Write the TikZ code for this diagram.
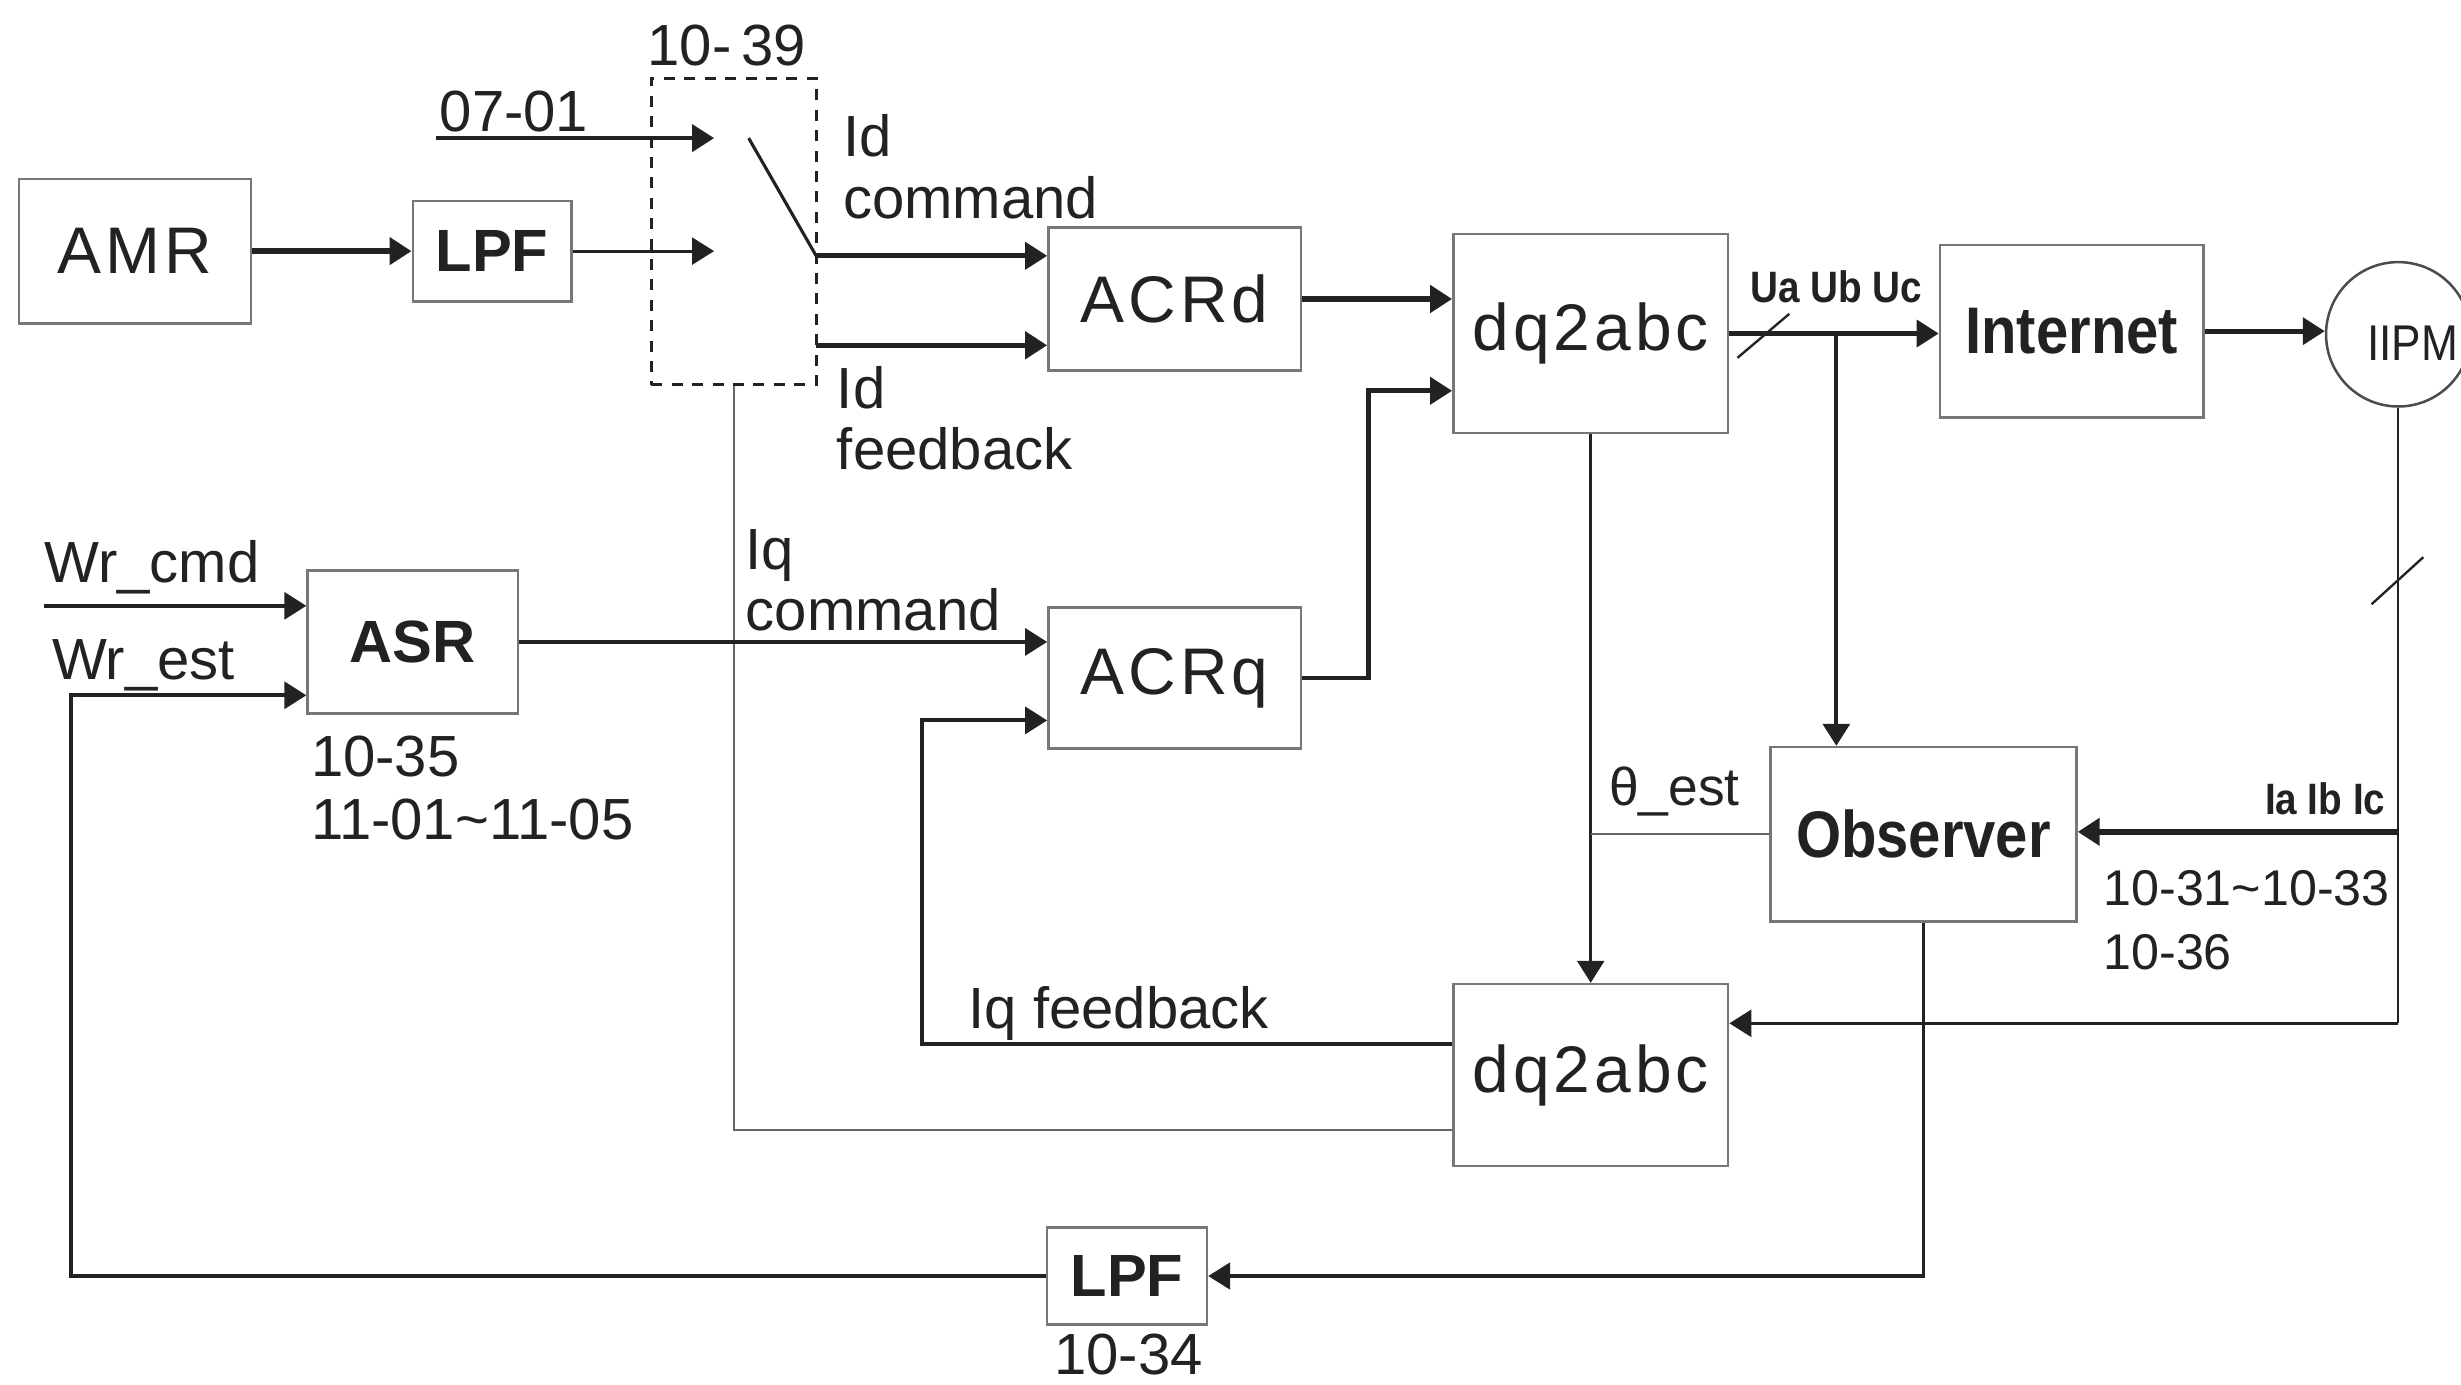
\documentclass[tikz,border=0pt]{standalone}
\usepackage{fontspec}
\setmainfont{Liberation Sans}
\newfontfamily\narrowfont{Liberation Sans}[FakeStretch=0.88]
\newfontfamily\spacedfont{Liberation Sans}[LetterSpace=6]
\usetikzlibrary{arrows.meta,calc}
\definecolor{ink}{HTML}{222222}
\definecolor{boxc}{HTML}{777777}
\tikzset{
  box/.style={draw=boxc, line width=1.6pt, inner sep=0pt, text=ink},
  lbl/.style={inner sep=0pt, text=ink, font=\fontsize{37}{40}\selectfont},
  wire/.style={draw=ink, line width=#1},
  wire/.default=2pt,
  arr/.style={wire=#1, -{Triangle[length=14pt,width=17pt]}},
  arr/.default=3pt,
  thinwire/.style={draw=black!60, line width=1.5pt},
}
\begin{document}
\begin{tikzpicture}[x=1pt,y=-1pt]
\fill[white] (0,0) rectangle (1568,882);
\useasboundingbox (0,0) rectangle (1568,882);

% ---- boxes
\node[box, minimum width=148pt, minimum height=92pt, font=\spacedfont\fontsize{42}{44}\selectfont] (amr) at (86,160) {AMR};
\node[box, minimum width=101pt, minimum height=64pt, font=\bfseries\fontsize{38}{40}\selectfont] (lpf1) at (313.5,160) {LPF};
\node[draw=ink, dashed, dash pattern=on 7pt off 6pt, line width=2pt, minimum width=105pt, minimum height=195pt] (sw) at (467.5,147.5) {};
\node[box, minimum width=161pt, minimum height=91pt, font=\spacedfont\fontsize{42}{44}\selectfont] (acrd) at (748.5,190.5) {ACRd};
\node[box, minimum width=175pt, minimum height=127pt, font=\spacedfont\fontsize{42}{44}\selectfont] (dq1) at (1013.5,212.5) {dq2abc};
\node[box, minimum width=168pt, minimum height=110pt, font=\narrowfont\bfseries\fontsize{42}{44}\selectfont] (inet) at (1320,211) {Internet};
\node[draw=black!70, line width=1.6pt, circle, minimum size=92pt, inner sep=0pt] (ipm) at (1528,213) {};
\node[inner sep=0pt, anchor=base west, text=ink, font=\narrowfont\fontsize{32}{34}\selectfont] (ipmtxt) at (1508,229.5) {IIPM};
\node[box, minimum width=134pt, minimum height=91pt, font=\bfseries\fontsize{38}{40}\selectfont] (asr) at (263,409) {ASR};
\node[box, minimum width=161pt, minimum height=90pt, font=\spacedfont\fontsize{42}{44}\selectfont] (acrq) at (748.5,432) {ACRq};
\node[box, minimum width=195pt, minimum height=111pt, font=\narrowfont\bfseries\fontsize{42}{44}\selectfont] (obs) at (1225.5,531.5) {Observer};
\node[box, minimum width=175pt, minimum height=116pt, font=\spacedfont\fontsize{42}{44}\selectfont] (dq2) at (1013.5,685) {dq2abc};
\node[box, minimum width=102pt, minimum height=62pt, font=\bfseries\fontsize{38}{40}\selectfont] (lpf2) at (718,813) {LPF};

% ---- free ends
\coordinate (c0701s) at (278,88);
\coordinate (c0701e) at (455,88);
\coordinate (cLin) at (455,160);
\coordinate (swA) at (477,88);
\coordinate (swB) at (520,163);
\coordinate (cIdfb) at (520,220);
\coordinate (cWc) at (28,386);
\coordinate (cWe) at (45,443);
\coordinate (jU) at (1170,212.5);
\coordinate (cIabc) at (1528,530);
\coordinate (cIq) at (1528,652);

% ---- connectors
\draw[arr=3.5pt] (amr.east) -- (lpf1.west);
\draw[arr=2pt] (lpf1.east) -- (cLin);
\draw[arr=3pt] (c0701s) -- (c0701e);
\draw[wire=2pt] (swA) -- (swB);
\draw[arr=3pt] (swB) -- (swB -| acrd.west);
\draw[arr=3.5pt] (cIdfb) -- (cIdfb -| acrd.west);
\draw[arr=3.5pt] (acrd.east) -- (acrd.east -| dq1.west);
\draw[arr=3pt] (acrq.east) -- ++(42,0) |- ([yshift=-36.5pt]dq1.west);
\draw[arr=3pt] (dq1.east) -- (dq1.east -| inet.west);
\draw[wire=1.5pt] (1107,228) -- (1140,200);
\draw[arr=2.5pt] (jU) -- (jU |- obs.north);
\draw[arr=3pt] (inet.east) -- (inet.east -| ipm.west);
\draw[wire=1.5pt] (ipm.south) -- (cIq);
\draw[arr=2pt] (cIq) -- (cIq -| dq2.east);
\draw[wire=1.5pt] (1511,385) -- (1544,355);
\draw[arr=3.5pt] (cIabc) -- (cIabc -| obs.east);
\draw[arr=2pt] (dq1.south) -- (dq2.north);
\draw[thinwire] (obs.west) -- (obs.west -| dq1.south);
\draw[arr=2.5pt] ([yshift=20pt]dq2.west) -- ++(-338,0) |- ([yshift=-27pt]acrq.west);
\draw[thinwire] ([yshift=-35pt]dq2.west) -| (sw.south);
\draw[arr=2.5pt] (asr.east) -- (asr.east -| acrq.west);
\draw[arr=2.5pt] (cWc) -- (cWc -| asr.west);
\draw[arr=2.5pt] (lpf2.west) -| (cWe) -- (cWe -| asr.west);
\draw[arr=2pt] (obs.south) |- (lpf2.east);

% ---- labels
\node[lbl, anchor=base] (l1039) at (463,42) {10-\,39};
\node[lbl, anchor=base west] (l0701) at (280,84) {07-01};
\node[lbl, anchor=base west] (lidc1) at (537,100) {Id};
\node[lbl, anchor=base west] (lidc2) at (537,139) {command};
\node[lbl, anchor=base west] (lidf1) at (533,260) {Id};
\node[lbl, anchor=base west] (lidf2) at (533,299) {feedback};
\node[lbl, anchor=base west] (lwc) at (28,371) {Wr\_cmd};
\node[lbl, anchor=base west] (lwe) at (33,433) {Wr\_est};
\node[lbl, anchor=base west] (liq1) at (475,363) {Iq};
\node[lbl, anchor=base west] (liq2) at (475,402) {command};
\node[lbl, anchor=base west] (l1035) at (198,495) {10-35};
\node[lbl, anchor=base west] (l1101) at (198,535) {11-01\textasciitilde 11-05};
\node[lbl, anchor=base west, font=\fontsize{34}{36}\selectfont] (lth) at (1025,513) {θ\_est};
\node[lbl, anchor=base west, font=\narrowfont\bfseries\fontsize{28}{30}\selectfont] (luabc) at (1115,193) {Ua Ub Uc};
\node[lbl, anchor=base east, font=\narrowfont\bfseries\fontsize{28}{30}\selectfont] (liabc) at (1520,519) {Ia Ib Ic};
\node[lbl, anchor=base west, font=\fontsize{32}{34}\selectfont] (l1031) at (1340,577) {10-31\textasciitilde 10-33};
\node[lbl, anchor=base west, font=\fontsize{32}{34}\selectfont] (l1036) at (1340,618) {10-36};
\node[lbl, anchor=base west] (liqf) at (617,655) {Iq feedback};
\node[lbl, anchor=base] (l1034) at (719,876) {10-34};
\end{tikzpicture}
\end{document}
